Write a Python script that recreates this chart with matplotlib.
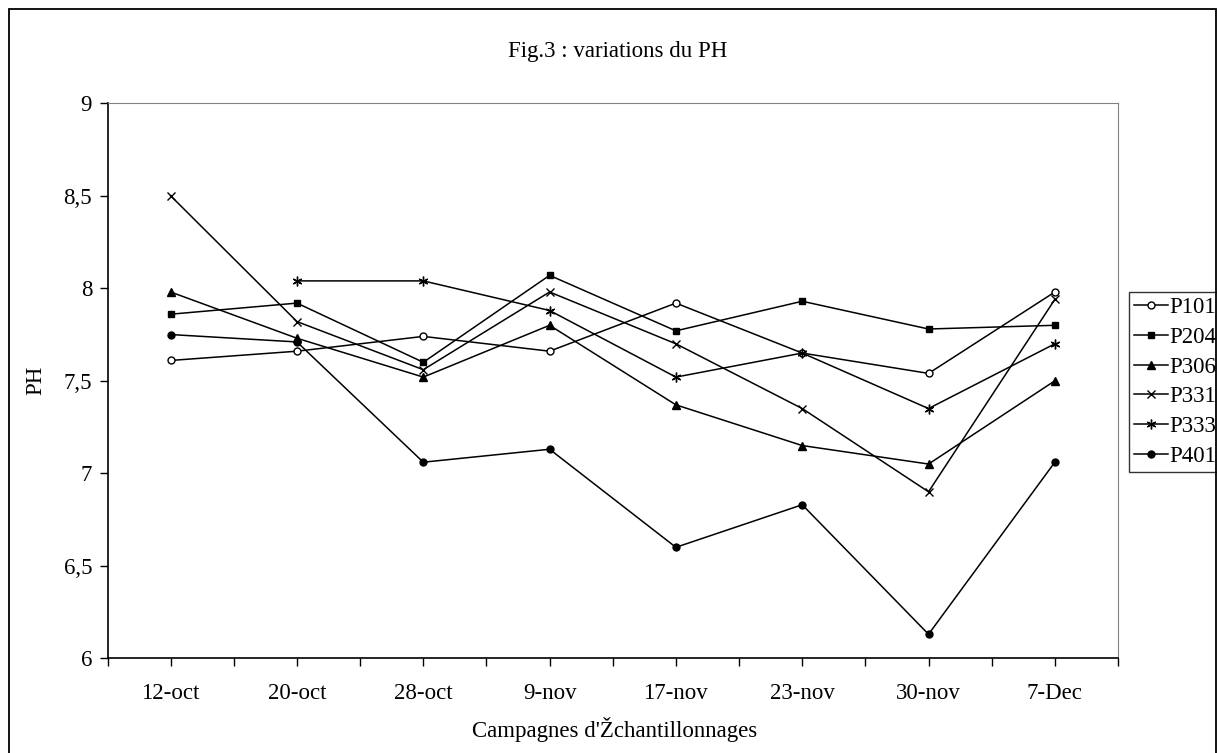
import numpy as np
import matplotlib.pyplot as plt
from matplotlib.patches import Rectangle

plt.rcParams['font.family'] = ['Liberation Serif', 'DejaVu Serif']

# Sampling campaigns and pH readings per station
campagnes = ['12-oct', '20-oct', '28-oct', '9-nov', '17-nov', '23-nov', '30-nov', '7-Dec']
p101 = [7.61, 7.66, 7.74, 7.66, 7.92, 7.65, 7.54, 7.98]
p204 = [7.86, 7.92, 7.60, 8.07, 7.77, 7.93, 7.78, 7.80]
p306 = [7.98, 7.73, 7.52, 7.80, 7.37, 7.15, 7.05, 7.50]
p331 = [8.50, 7.82, 7.56, 7.98, 7.70, 7.35, 6.90, 7.94]
p333 = [np.nan, 8.04, 8.04, 7.88, 7.52, 7.65, 7.35, 7.70]
p401 = [7.75, 7.71, 7.06, 7.13, 6.60, 6.83, 6.13, 7.06]

stations = ['P101', 'P204', 'P306', 'P331', 'P333', 'P401']
series = [p101, p204, p306, p331, p333, p401]
y_ticks = [6, 6.5, 7, 7.5, 8, 8.5, 9]

styles = {
    'P101': dict(marker='o', markerfacecolor='white', markersize=5),
    'P204': dict(marker='s', markerfacecolor='black', markersize=5),
    'P306': dict(marker='^', markerfacecolor='black', markersize=6),
    'P331': dict(marker='x', markersize=6, markeredgewidth=1.0),
    'P333': dict(marker=(6, 2, 0), markersize=7, markeredgewidth=1.0),
    'P401': dict(marker='o', markerfacecolor='black', markersize=5),
}

FS = 16.5
W, H = 1217, 753
fig = plt.figure(figsize=(W / 100, H / 100), dpi=100)
fig.patch.set_facecolor('white')

# outer chart frame
fig.patches.append(Rectangle((9 / W, -0.05), (W - 10) / W, 1 - 9 / H + 0.05,
                             transform=fig.transFigure, fill=False,
                             edgecolor='black', linewidth=1.3))

ax = fig.add_axes([107.5 / W, 1 - 658.3 / H, (1118 - 107.5) / W, (658.3 - 103.3) / H])

x = np.arange(len(campagnes))
for name, vals in zip(stations, series):
    ax.plot(x, vals, color='black', linewidth=1.1, markeredgecolor='black',
            label=name, **styles[name])

ax.set_xlim(-0.5, len(campagnes) - 0.5)
ax.set_ylim(6, 9)
ax.set_yticks(y_ticks)
ax.set_yticklabels([f'{v:g}'.replace('.', ',') for v in y_ticks])
ax.set_xticks(x)
ax.set_xticklabels(campagnes)
ax.set_xticks(np.arange(-0.5, len(campagnes)), minor=True)

ax.tick_params(axis='both', which='both', direction='out', length=6, width=1,
               colors='black', labelsize=FS)
ax.tick_params(axis='x', which='major', pad=12)
ax.tick_params(axis='y', pad=5)

for side in ['top', 'right']:
    ax.spines[side].set_color('#808080')
for side in ['left', 'bottom']:
    ax.spines[side].set_color('black')
    ax.spines[side].set_linewidth(1.2)

fig.text(618 / W, 1 - 52 / H, 'Fig.3 : variations du PH', ha='center', va='center', fontsize=FS)
fig.text(615 / W, 1 - 729 / H, "Campagnes d'Žchantillonnages", ha='center', va='center', fontsize=FS)
fig.text(36 / W, 1 - 380 / H, 'PH', ha='center', va='center', rotation=90, fontsize=FS)

leg = ax.legend(loc='upper left', bbox_to_anchor=(1129 / W, 1 - 292 / H),
                bbox_transform=fig.transFigure, frameon=True, fancybox=False,
                fontsize=FS, handlelength=1.5, handletextpad=0.05,
                borderpad=0.22, labelspacing=0.38, borderaxespad=0)
leg.get_frame().set_edgecolor('black')
leg.get_frame().set_linewidth(1.0)

fig.savefig('out.png', dpi=100, facecolor='white')
